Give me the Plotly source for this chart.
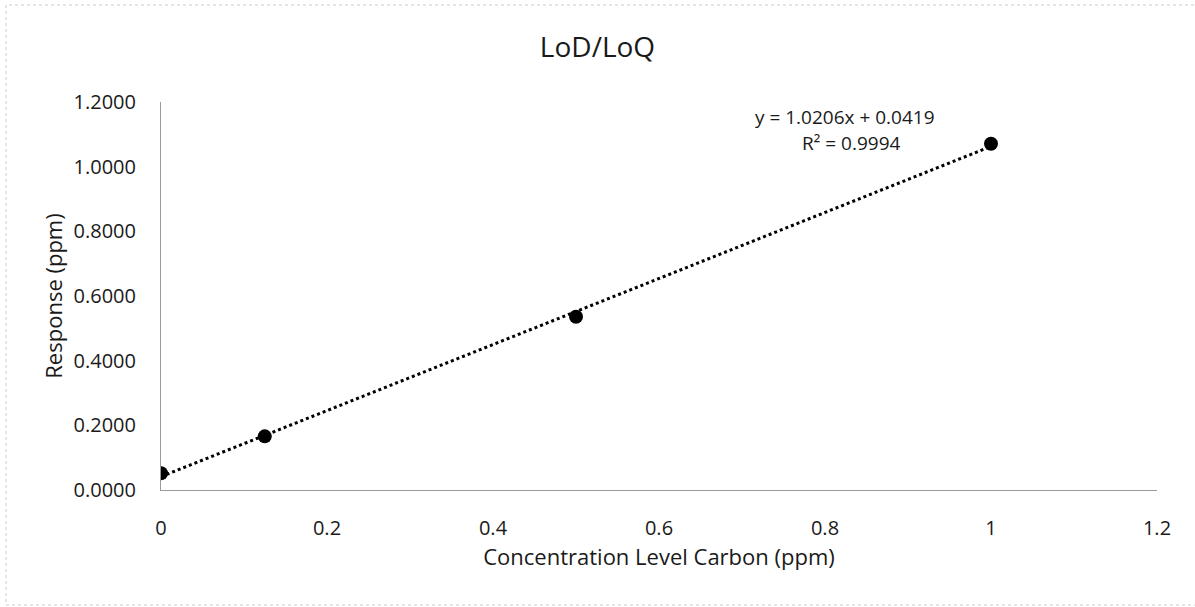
import numpy as np
import plotly.graph_objects as go

concentration = [0.0, 0.125, 0.5, 1.0]
response = [0.052, 0.166, 0.536, 1.071]
x_ticks = [0, 0.2, 0.4, 0.6, 0.8, 1.0, 1.2]
x_tick_labels = ["0", "0.2", "0.4", "0.6", "0.8", "1", "1.2"]
y_ticks = [0, 0.2, 0.4, 0.6, 0.8, 1.0, 1.2]
y_tick_labels = ["0.0000", "0.2000", "0.4000", "0.6000", "0.8000", "1.0000", "1.2000"]
equation_text = "y = 1.0206x + 0.0419"
r2_text = "R² = 0.9994"

slope, intercept = np.polyfit(concentration, response, 1)
trend_x = [min(concentration), max(concentration)]
trend_y = [slope * v + intercept for v in trend_x]

FONT = "Open Sans"
TXT = "#1a1a1a"

fig = go.Figure()
fig.add_trace(go.Scatter(
    x=trend_x, y=trend_y, mode="lines",
    line=dict(color="black", width=3, dash="dot"),
    hoverinfo="skip", showlegend=False,
))
fig.add_trace(go.Scatter(
    x=concentration, y=response, mode="markers",
    marker=dict(color="black", size=14),
    showlegend=False,
))

fig.update_layout(
    width=1195, height=607,
    paper_bgcolor="white", plot_bgcolor="white",
    margin=dict(l=161, r=38, t=102, b=117),
    font=dict(family=FONT, color=TXT),
    title=dict(text="LoD/LoQ", x=0.5, xanchor="center", y=1 - 47 / 607, yanchor="middle",
               font=dict(size=28, family=FONT, color=TXT)),
    xaxis=dict(
        range=[0, 1.2], tickvals=x_ticks, ticktext=x_tick_labels,
        showgrid=False, zeroline=False, showline=True, linecolor="#9a9a9a", linewidth=1,
        ticks="outside", ticklen=20, tickcolor="rgba(0,0,0,0)",
        tickfont=dict(size=20, family=FONT, color=TXT),
        title=dict(text="Concentration Level Carbon (ppm)", font=dict(size=22, family=FONT, color=TXT), standoff=6),
    ),
    yaxis=dict(
        range=[0, 1.2], tickvals=y_ticks, ticktext=y_tick_labels,
        showgrid=False, zeroline=False, showline=True, linecolor="#9a9a9a", linewidth=1,
        ticks="outside", ticklen=20, tickcolor="rgba(0,0,0,0)",
        tickfont=dict(size=20, family=FONT, color=TXT),
        title=dict(text="Response (ppm)", font=dict(size=22, family=FONT, color=TXT), standoff=4),
    ),
    annotations=[
        dict(x=(845 - 161) / 830, y=(490 - 117) / 323.3, xref="x", yref="y", text=equation_text,
             showarrow=False, font=dict(size=19, family=FONT, color=TXT)),
        dict(x=(851 - 161) / 830, y=(490 - 143) / 323.3, xref="x", yref="y", text=r2_text,
             showarrow=False, font=dict(size=19, family=FONT, color=TXT)),
    ],
    shapes=[
        dict(type="rect", xref="paper", yref="paper",
             x0=(6 - 161) / 996, x1=(1200 - 161) / 996,
             y0=-(605 - 490) / 388, y1=(490 - 5) / 388,
             line=dict(color="#cccccc", width=1, dash="dot"), layer="below"),
    ],
)

fig.write_html("out.html", config={"displayModeBar": False},
               post_script="document.body.style.margin='0px';")
